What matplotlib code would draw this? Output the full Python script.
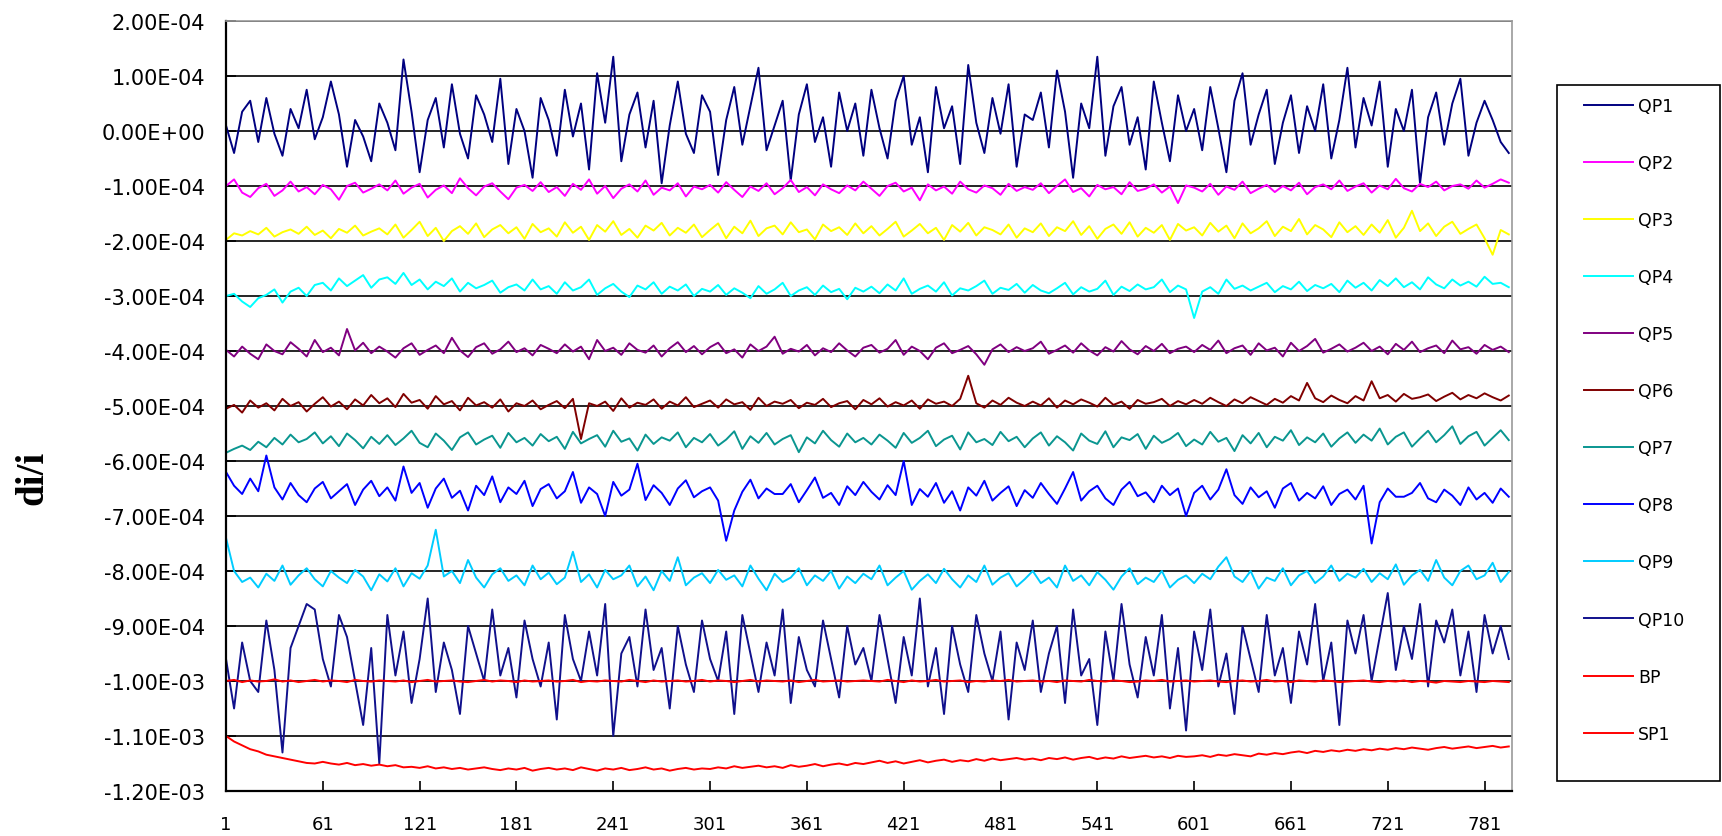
import numpy as np
import matplotlib
matplotlib.use("Agg")
import matplotlib.pyplot as plt
from matplotlib.patches import Rectangle
from matplotlib.ticker import FuncFormatter, MultipleLocator

# readings every 5th sample, values in units of 1e-6 (di/i)
step = 5
scale = 1e-6

qp1 = [10, -40, 35, 55, -20, 60, -5, -45, 40, 5, 75, -15, 25, 90, 30, -65, 20, -10, -55, 50,
       15, -35, 130, 35, -75, 20, 60, -30, 85, -5, -50, 65, 30, -20, 95, -60, 40, 0, -85, 60,
       20, -45, 75, -10, 50, -70, 105, 15, 135, -55, 30, 70, -30, 55, -95, 10, 90, -5, -40, 65,
       35, -80, 20, 80, -25, 45, 115, -35, 10, 55, -90, 30, 85, -20, 25, -65, 70, 0, 50, -45,
       75, 5, -50, 55, 100, -25, 25, -75, 80, 5, 45, -60, 120, 15, -40, 60, -5, 85, -65, 30,
       20, 70, -30, 110, 35, -85, 50, 5, 135, -45, 45, 80, -25, 25, -70, 90, 15, -55, 65, 0,
       40, -35, 80, 5, -75, 55, 105, -25, 30, 75, -60, 15, 65, -40, 45, 0, 85, -50, 20, 115,
       -30, 60, 10, 90, -65, 40, 0, 75, -95, 25, 70, -25, 50, 95, -45, 15, 55, 20, -20, -40]

qp2 = [-100, -88, -112, -120, -104, -96, -118, -108, -92, -110, -102, -115, -98, -106, -125, -100, -94, -112, -105, -97,
       -108, -90, -114, -103, -96, -121, -107, -99, -113, -86, -104, -117, -101, -95, -110, -124, -103, -98, -109, -93,
       -111, -102, -118, -96, -107, -88, -114, -100, -122, -105, -97, -110, -90, -116, -103, -108, -95, -119, -101, -106,
       -98, -112, -93, -107, -120, -101, -109, -95, -115, -104, -89, -111, -102, -117, -97, -106, -113, -99, -108, -92,
       -105, -118, -100, -94, -110, -103, -126, -97, -108, -101, -114, -92, -106, -112, -99, -104, -116, -96, -109, -102,
       -107, -95, -113, -100, -88, -111, -104, -119, -98, -106, -102, -115, -93, -109, -105, -97, -112, -101, -131, -99,
       -103, -110, -96, -116, -101, -107, -92, -113, -105, -98, -111, -100, -108, -94, -115, -102, -97, -106, -90, -109,
       -101, -95, -112, -99, -106, -87, -104, -110, -96, -102, -92, -108, -100, -97, -105, -90, -103, -96, -88, -94]

qp3 = [-198, -186, -190, -182, -188, -176, -192, -184, -179, -187, -174, -189, -181, -195, -178, -185, -172, -190, -183, -177,
       -188, -170, -194, -180, -165, -191, -176, -200, -182, -173, -187, -168, -193, -179, -171, -186, -175, -196, -169, -184,
       -177, -192, -166, -185, -174, -198, -171, -183, -164, -189, -178, -194, -172, -181, -167, -190, -176, -185, -170, -193,
       -180, -168, -195, -174, -186, -163, -191, -177, -172, -188, -166, -184, -179, -197, -170, -182, -175, -189, -168, -186,
       -173, -190, -178, -165, -192, -181, -169, -186, -176, -198, -171, -183, -167, -190, -175, -180, -188, -170, -194, -177,
       -184, -168, -191, -175, -182, -164, -189, -173, -196, -178, -170, -187, -166, -192, -176, -185, -171, -198, -169, -181,
       -175, -190, -167, -183, -172, -195, -168, -186, -177, -164, -191, -174, -182, -160, -188, -171, -179, -193, -166, -184,
       -173, -189, -170, -185, -162, -194, -176, -145, -182, -168, -191, -174, -165, -187, -178, -170, -195, -225, -180, -188]

qp4 = [-300, -296, -310, -320, -304, -298, -288, -312, -292, -285, -300, -280, -276, -290, -268, -282, -272, -262, -285, -270,
       -266, -278, -258, -280, -270, -288, -274, -282, -268, -292, -276, -286, -280, -272, -294, -284, -279, -290, -270, -288,
       -282, -296, -275, -290, -284, -270, -298, -286, -278, -292, -302, -281, -288, -275, -296, -283, -290, -279, -300, -287,
       -292, -280, -298, -286, -294, -304, -282, -296, -288, -276, -300, -290, -284, -298, -281, -293, -287, -306, -285, -292,
       -283, -295, -279, -290, -268, -296, -287, -281, -292, -275, -299, -286, -290, -282, -272, -296, -285, -289, -278, -294,
       -280, -290, -295, -286, -276, -297, -284, -292, -287, -272, -298, -283, -291, -279, -288, -284, -270, -293, -281, -288,
       -340, -292, -284, -296, -270, -287, -281, -290, -283, -276, -293, -282, -288, -274, -291, -280, -286, -278, -293, -272,
       -285, -276, -290, -271, -282, -268, -284, -275, -288, -266, -279, -286, -270, -281, -274, -283, -265, -278, -276, -284]

qp5 = [-398, -410, -392, -405, -415, -388, -400, -406, -384, -396, -410, -380, -402, -394, -408, -360, -399, -385, -404, -392,
       -401, -412, -395, -386, -407, -398, -390, -404, -376, -399, -411, -393, -386, -405, -397, -383, -402, -395, -408, -389,
       -396, -404, -388, -401, -392, -415, -380, -400, -394, -407, -386, -398, -403, -390, -410, -395, -384, -402, -391, -406,
       -393, -385, -404, -397, -412, -388, -400, -392, -374, -405, -396, -401, -389, -408, -395, -402, -386, -399, -410, -394,
       -389, -403, -396, -380, -407, -392, -400, -415, -394, -386, -404, -398, -391, -406, -425, -397, -388, -402, -393, -400,
       -395, -383, -405, -398, -390, -403, -386, -399, -408, -393, -401, -382, -397, -406, -391, -400, -387, -404, -396, -392,
       -402, -389, -398, -381, -404, -395, -390, -407, -386, -399, -394, -410, -385, -400, -391, -378, -403, -396, -388, -401,
       -394, -385, -400, -392, -406, -387, -398, -383, -402, -395, -390, -404, -381, -397, -393, -405, -389, -398, -392, -402]

qp6 = [-505, -498, -512, -490, -503, -495, -508, -487, -500, -493, -510, -496, -484, -501, -492, -506, -488, -499, -480, -495,
       -486, -502, -478, -494, -489, -505, -482, -497, -491, -508, -485, -499, -493, -503, -488, -510, -495, -500, -490, -506,
       -498, -491, -504, -487, -560, -495, -500, -492, -509, -486, -503, -494, -498, -488, -505, -492, -499, -484, -502, -496,
       -490, -503, -488, -497, -493, -507, -485, -500, -492, -496, -489, -504, -494, -498, -487, -502, -495, -491, -506, -489,
       -497, -486, -501, -493, -499, -490, -505, -488, -496, -492, -500, -487, -445, -495, -503, -490, -498, -485, -494, -500,
       -492, -499, -486, -503, -490, -497, -488, -494, -501, -485, -498, -492, -505, -489, -496, -493, -487, -500, -491, -497,
       -489, -496, -485, -493, -500, -488, -495, -484, -491, -498, -487, -494, -482, -490, -458, -486, -493, -481, -489, -495,
       -482, -490, -455, -486, -480, -492, -478, -487, -484, -479, -491, -483, -476, -488, -480, -486, -477, -484, -490, -481]

qp7 = [-585, -578, -572, -580, -565, -575, -558, -570, -552, -566, -560, -548, -568, -555, -573, -550, -562, -577, -556, -569,
       -553, -571, -559, -545, -567, -575, -550, -563, -580, -557, -548, -570, -561, -554, -576, -549, -566, -558, -572, -551,
       -564, -556, -578, -547, -568, -560, -553, -574, -545, -565, -559, -581, -552, -569, -557, -563, -548, -575, -558, -566,
       -551, -572, -561, -546, -578, -555, -567, -549, -570, -560, -553, -584, -557, -568, -545, -562, -574, -550, -566, -558,
       -570, -552, -563, -576, -549, -567, -558, -545, -573, -561, -554, -579, -548, -566, -560, -571, -547, -564, -556, -575,
       -559, -548, -572, -555, -566, -581, -550, -563, -569, -546, -575, -557, -562, -551, -578, -554, -567, -560, -549, -573,
       -561, -570, -547, -565, -558, -582, -553, -568, -549, -575, -556, -563, -544, -571, -557, -566, -550, -574, -559, -548,
       -567, -552, -563, -541, -570, -556, -548, -574, -559, -545, -566, -553, -537, -569, -555, -547, -572, -558, -544, -562]

qp8 = [-620, -645, -660, -632, -655, -590, -648, -670, -640, -662, -675, -650, -638, -668, -655, -642, -680, -652, -636, -664,
       -648, -672, -610, -658, -640, -685, -650, -632, -667, -654, -690, -645, -662, -628, -675, -648, -660, -636, -682, -651,
       -642, -668, -655, -620, -676, -648, -660, -700, -638, -663, -652, -605, -671, -644, -658, -680, -650, -635, -666, -655,
       -648, -672, -745, -690, -656, -634, -668, -650, -660, -660, -642, -675, -653, -630, -667, -658, -680, -646, -662, -638,
       -656, -670, -644, -662, -600, -680, -651, -665, -640, -676, -655, -690, -648, -663, -636, -672, -658, -646, -682, -653,
       -667, -640, -660, -678, -650, -620, -672, -655, -645, -668, -680, -652, -638, -664, -657, -675, -645, -662, -650, -700,
       -658, -645, -670, -652, -615, -662, -678, -648, -666, -655, -685, -650, -640, -672, -658, -668, -646, -680, -660, -652,
       -670, -645, -750, -675, -650, -665, -665, -658, -640, -668, -675, -652, -663, -680, -648, -670, -658, -676, -650, -665]

qp9 = [-740, -800, -820, -812, -830, -805, -818, -790, -825, -808, -795, -815, -828, -800, -812, -822, -798, -810, -835, -806,
       -819, -795, -828, -804, -814, -790, -725, -810, -800, -822, -780, -812, -830, -806, -795, -818, -808, -826, -790, -815,
       -803, -824, -812, -765, -820, -806, -830, -798, -815, -808, -790, -828, -810, -835, -800, -818, -775, -826, -812, -804,
       -822, -798, -816, -808, -828, -790, -814, -835, -805, -820, -812, -795, -826, -808, -818, -800, -832, -810, -822, -805,
       -815, -790, -826, -812, -800, -834, -818, -806, -822, -796, -815, -830, -808, -820, -790, -825, -812, -804, -828, -815,
       -800, -822, -812, -830, -790, -818, -808, -826, -802, -816, -834, -810, -795, -824, -812, -820, -800, -830, -816, -808,
       -822, -805, -815, -792, -775, -810, -820, -800, -832, -812, -818, -795, -826, -808, -800, -822, -810, -790, -818, -805,
       -812, -796, -820, -804, -815, -788, -825, -808, -798, -818, -780, -812, -826, -800, -790, -815, -808, -785, -820, -802]

qp10 = [-960, -1050, -930, -1000, -1020, -890, -980, -1130, -940, -900, -860, -870, -960, -1010, -880, -920, -1000, -1080, -940, -1150,
        -880, -990, -910, -1040, -960, -850, -1020, -930, -980, -1060, -900, -950, -1000, -870, -990, -940, -1030, -890, -960, -1010,
        -930, -1070, -880, -960, -1000, -910, -990, -860, -1100, -950, -920, -1010, -870, -980, -940, -1050, -900, -970, -1020, -890,
        -960, -1000, -910, -1060, -880, -950, -1020, -930, -990, -870, -1040, -920, -980, -1010, -890, -960, -1030, -900, -970, -940,
        -1000, -880, -960, -1040, -920, -990, -850, -1010, -940, -1060, -900, -970, -1020, -880, -950, -1000, -910, -1070, -930, -980,
        -890, -1020, -950, -900, -1040, -870, -990, -960, -1080, -910, -1000, -860, -970, -1030, -920, -990, -880, -1050, -940, -1090,
        -910, -980, -870, -1010, -950, -1060, -900, -960, -1020, -880, -990, -940, -1040, -910, -970, -860, -1000, -930, -1080, -890,
        -950, -880, -1000, -920, -840, -980, -900, -960, -860, -1010, -890, -930, -870, -990, -910, -1020, -880, -950, -900, -960]

bp = [-1000, -998, -1002, -999, -1001, -1000, -997, -1001, -999, -1002, -1000, -998, -1001, -999, -1000, -1002, -998, -1000, -1001, -999,
      -1000, -1001, -999, -1002, -1000, -998, -1001, -1000, -999, -1001, -1002, -1000, -998, -1001, -999, -1000, -1002, -999, -1001, -1000,
      -999, -1001, -1000, -998, -1002, -1000, -1001, -999, -1000, -1001, -998, -1000, -1002, -999, -1001, -1000, -999, -1001, -1000, -998,
      -1001, -999, -1000, -1002, -1000, -998, -1001, -999, -1000, -1001, -999, -1002, -1000, -998, -1001, -1000, -999, -1001, -1000, -999,
      -1000, -1001, -998, -1000, -1002, -999, -1001, -1000, -998, -1001, -1000, -999, -1002, -1000, -1001, -999, -1000, -998, -1001, -1000,
      -999, -1001, -1000, -1002, -999, -1000, -1001, -998, -1000, -1001, -999, -1000, -1002, -1001, -999, -1000, -998, -1001, -1000, -999,
      -1001, -1000, -999, -1001, -1002, -1000, -999, -1001, -1000, -998, -1001, -1000, -1002, -999, -1000, -1001, -999, -1000, -1002, -1001,
      -1000, -999, -1001, -1002, -1000, -1001, -999, -1002, -1000, -1001, -1003, -1000, -1001, -1002, -1000, -1001, -1002, -1000, -1001, -1002]

sp1 = [-1100, -1110, -1117, -1124, -1128, -1134, -1137, -1140, -1143, -1146, -1149, -1150, -1147, -1150, -1152, -1149, -1153, -1151, -1154, -1152,
       -1155, -1153, -1157, -1156, -1158, -1155, -1159, -1157, -1160, -1158, -1161, -1159, -1157, -1160, -1162, -1159, -1161, -1158, -1163, -1160,
       -1158, -1161, -1159, -1162, -1157, -1160, -1163, -1159, -1161, -1158, -1162, -1160, -1157, -1161, -1159, -1163, -1160, -1158, -1161, -1159,
       -1160, -1157, -1159, -1155, -1158, -1156, -1154, -1157, -1155, -1158, -1153, -1156, -1154, -1151, -1155, -1152, -1150, -1153, -1149, -1151,
       -1148, -1145, -1149, -1146, -1150, -1147, -1144, -1148, -1145, -1143, -1147, -1144, -1146, -1142, -1145, -1141, -1144, -1142, -1140, -1143,
       -1141, -1144, -1140, -1142, -1139, -1143, -1140, -1138, -1142, -1139, -1141, -1137, -1140, -1138, -1136, -1139, -1137, -1140, -1136, -1138,
       -1137, -1135, -1138, -1134, -1136, -1133, -1135, -1137, -1132, -1134, -1131, -1133, -1130, -1128, -1131, -1127, -1129, -1126, -1128, -1125,
       -1127, -1124, -1126, -1123, -1125, -1122, -1124, -1121, -1123, -1125, -1122, -1120, -1123, -1121, -1119, -1122, -1120, -1118, -1121, -1119]

names = ['QP1', 'QP2', 'QP3', 'QP4', 'QP5', 'QP6', 'QP7', 'QP8', 'QP9', 'QP10', 'BP', 'SP1']
series = [qp1, qp2, qp3, qp4, qp5, qp6, qp7, qp8, qp9, qp10, bp, sp1]
colors = ['#000080', '#FF00FF', '#FFFF00', '#00FFFF', '#800080', '#800000',
          '#0A9690', '#0000FF', '#00CCFF', '#10108C', '#FF0000', '#FF0000']

x_ticks = list(range(1, 800, 60))

W, H = 1722, 837
fig = plt.figure(figsize=(W / 100, H / 100), dpi=100)
ax = fig.add_axes([226 / W, 1 - 792 / H, (1512 - 226) / W, (792 - 22) / H])

for name, vals, col in zip(names, series, colors):
    x = np.arange(len(vals)) * step + 1
    ax.plot(x, np.array(vals) * scale, color=col, lw=1.4, label=name)

ax.set_xlim(1, 798)
ax.set_ylim(-1.2e-3, 2e-4)
ax.yaxis.set_major_locator(MultipleLocator(1e-4))
ax.yaxis.set_major_formatter(FuncFormatter(lambda v, p: f"{round(v, 8):.2E}"))
ax.set_xticks(x_ticks)

ax.grid(axis='y', color='black', lw=1.2, zorder=0)
ax.set_axisbelow(True)
ax.get_ygridlines()[-1].set_visible(False)

ax.tick_params(axis='x', direction='in', length=7, width=1.2, pad=17, labelsize=13)
ax.tick_params(axis='y', direction='in', length=7, width=1.2, pad=15, labelsize=15)
for s in ['left', 'bottom']:
    ax.spines[s].set_linewidth(1.6)
for s in ['top', 'right']:
    ax.spines[s].set_color('#999999')
    ax.spines[s].set_linewidth(1.2)

fig.text(33 / W, 1 - 478 / H, 'di/i', rotation=90, ha='center', va='center',
         fontsize=28, fontweight='bold', family='Liberation Serif')

# legend box on the right
fig.add_artist(Rectangle((1557 / W, 1 - 782 / H), (1720 - 1557) / W, (782 - 86) / H,
                         transform=fig.transFigure, fill=False, edgecolor='black', lw=1.2))
fig.legend(loc='upper left', bbox_to_anchor=(1584 / W, 1 - 98 / H), frameon=False,
           fontsize=12.5, labelspacing=2.25, handlelength=2.8, handletextpad=0.3,
           borderpad=0, borderaxespad=0)

fig.savefig('out.png', dpi=100)
